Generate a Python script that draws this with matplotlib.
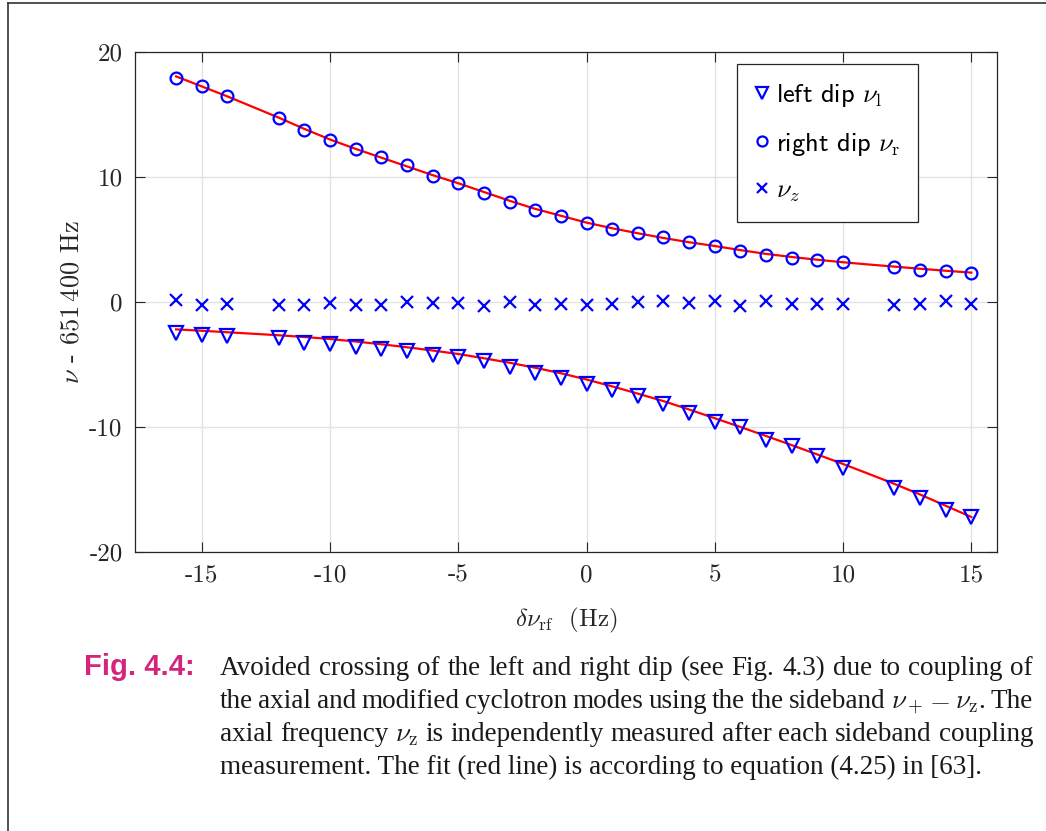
import numpy as np
import matplotlib.pyplot as plt
from matplotlib.lines import Line2D

plt.rcParams['mathtext.fontset'] = 'cm'
plt.rcParams['axes.formatter.use_mathtext'] = True

# measured points (x = detuning of rf drive, Hz)
x_data = [-16, -15, -14, -12, -11, -10, -9, -8, -7, -6, -5, -4, -3, -2, -1,
          0, 1, 2, 3, 4, 5, 6, 7, 8, 9, 10, 12, 13, 14, 15]
right_dip = [17.9, 17.25, 16.5, 14.75, 13.76, 12.96, 12.27, 11.57, 10.93, 10.05,
             9.49, 8.75, 8.03, 7.36, 6.88, 6.29, 5.86, 5.52, 5.17, 4.77,
             4.5, 4.1, 3.73, 3.55, 3.36, 3.17, 2.83, 2.56, 2.5, 2.32]
left_dip = [-2.47, -2.64, -2.73, -2.87, -3.24, -3.33, -3.61, -3.73, -3.88, -4.21,
            -4.41, -4.75, -5.21, -5.64, -6.09, -6.53, -7.07, -7.55, -8.15, -8.84,
            -9.56, -10.03, -11.0, -11.53, -12.31, -13.29, -14.88, -15.68, -16.64, -17.2]
nu_z = [0.13, -0.24, -0.18, -0.24, -0.2, -0.1, -0.22, -0.22, 0.02, -0.1,
        -0.1, -0.32, 0.02, -0.22, -0.19, -0.27, -0.15, -0.03, 0.05, -0.1,
        0.05, -0.3, 0.05, -0.15, -0.15, -0.15, -0.25, -0.15, 0.05, -0.15]

# fit curves
x_fit = list(range(-16, 16))
fit_upper = [18.05, 17.25, 16.45, 15.6, 14.75, 13.85, 13.0, 12.25, 11.55, 10.85,
             10.15, 9.5, 8.8, 8.1, 7.45, 6.9, 6.35, 5.9, 5.5, 5.12,
             4.78, 4.48, 4.15, 3.85, 3.6, 3.38, 3.18, 3.0, 2.83, 2.66,
             2.5, 2.35]
fit_lower = [-2.19, -2.3, -2.42, -2.54, -2.66, -2.8, -2.96, -3.16, -3.38, -3.62,
             -3.88, -4.16, -4.5, -4.86, -5.26, -5.7, -6.2, -6.75, -7.33, -7.93,
             -8.6, -9.3, -10.0, -10.72, -11.45, -12.2, -12.96, -13.75, -14.55, -15.4,
             -16.3, -17.2]

x_ticks = [-15, -10, -5, 0, 5, 10, 15]
y_ticks = [-20, -10, 0, 10, 20]

W, H = 1046, 831
fig = plt.figure(figsize=(W / 100, H / 100), dpi=100)
ax = fig.add_axes([135 / W, 1 - 552 / H, (997 - 135) / W, (552 - 52) / H])

axcol = '#262626'
ax.plot(x_fit, fit_upper, color='#ff0000', lw=1.6, zorder=3)
ax.plot(x_fit, fit_lower, color='#ff0000', lw=1.6, zorder=3)
ax.plot(x_data, left_dip, 'v', ms=9.5, mfc='none', mec='#0000ff', mew=1.6,
        label=r'left dip $\nu_{\mathrm{l}}$', zorder=4)
ax.plot(x_data, right_dip, 'o', ms=8.5, mfc='none', mec='#0000ff', mew=1.6,
        label=r'right dip $\nu_{\mathrm{r}}$', zorder=4)
ax.plot(x_data, nu_z, 'x', ms=8.5, mec='#0000ff', mew=1.6,
        label=r'$\nu_z$', zorder=4)

ax.set_xlim(-17.6, 16.0)
ax.set_ylim(-20, 20)
ax.set_xticks(x_ticks)
ax.set_yticks(y_ticks)
ax.set_xticklabels([str(v) for v in x_ticks], fontfamily='cmr10', fontsize=18)
ax.set_yticklabels([str(v) for v in y_ticks], fontfamily='cmr10', fontsize=18)
ax.tick_params(direction='in', length=7, width=0.8, colors=axcol,
               top=True, right=True, pad=9)
for s in ax.spines.values():
    s.set_color(axcol)
    s.set_linewidth(0.9)
ax.grid(True, color='#e2e2e2', lw=1.0)
ax.set_axisbelow(True)

ax.set_ylabel(r'$\nu$ - $651\,400$ Hz', fontfamily='cmr10', fontsize=19,
              color=axcol, labelpad=4)
ax.set_xlabel(r'$\delta\nu_{\mathrm{rf}}$  (Hz)', fontfamily='cmr10', fontsize=18,
              color=axcol, labelpad=14)

leg = ax.legend(loc='upper left', bbox_to_anchor=((737 - 135) / 862, 1 - 12 / 500),
                borderaxespad=0, prop={'family': 'cmss10', 'size': 19},
                frameon=True, fancybox=False, framealpha=1, edgecolor=axcol,
                handlelength=0.5, handletextpad=0.3, labelspacing=0.82,
                borderpad=0.68, markerscale=0.85)
leg.get_frame().set_linewidth(0.9)

# outer frame of the figure box
fig.add_artist(Line2D([8 / W, 8 / W], [0, 1 - 3 / H], transform=fig.transFigure,
                      color='#333333', lw=1.2))
fig.add_artist(Line2D([8 / W, 1], [1 - 3 / H, 1 - 3 / H], transform=fig.transFigure,
                      color='#333333', lw=1.2))

# caption
fig.text(84 / W, 1 - 675 / H, 'Fig. 4.4:', fontfamily='Liberation Sans',
         fontweight='bold', fontsize=21, color='#d4247c')

cap_lines = [
    'Avoided crossing of the left and right dip (see Fig. 4.3) due to coupling of',
    r'the axial and modified cyclotron modes using the the sideband $\nu_+$ $-$ $\nu_{\mathrm{z}}$. The',
    r'axial frequency $\nu_{\mathrm{z}}$ is independently measured after each sideband coupling',
    'measurement. The fit (red line) is according to equation (4.25) in [63].',
]
cap_y = [675, 708, 741, 774]
x0, x1 = 220, 1033
renderer = fig.canvas.get_renderer()

# pick the largest size at which the justified lines still have normal gaps
cap_size = 21.0
while cap_size > 14:
    ok = True
    for line in cap_lines[:-1]:
        words = line.split(' ')
        tmp = [fig.text(0, 0, w, fontfamily='Liberation Serif', fontsize=cap_size)
               for w in words]
        total = sum(t.get_window_extent(renderer).width for t in tmp)
        for t in tmp:
            t.remove()
        if (x1 - x0 - total) / (len(words) - 1) < 5:
            ok = False
    if ok:
        break
    cap_size -= 0.25

kw = dict(fontfamily='Liberation Serif', fontsize=cap_size, color='#1a1a1a')
for i, line in enumerate(cap_lines):
    if i == len(cap_lines) - 1:
        fig.text(x0 / W, 1 - cap_y[i] / H, line, **kw)
        continue
    words = line.split(' ')
    texts = [fig.text(0, 1 - cap_y[i] / H, w, **kw) for w in words]
    widths = [t.get_window_extent(renderer).width for t in texts]
    gap = (x1 - x0 - sum(widths)) / (len(words) - 1)
    xx = x0
    for t, w in zip(texts, widths):
        t.set_x(xx / W)
        xx += w + gap

fig.savefig('out.png', dpi=100)
